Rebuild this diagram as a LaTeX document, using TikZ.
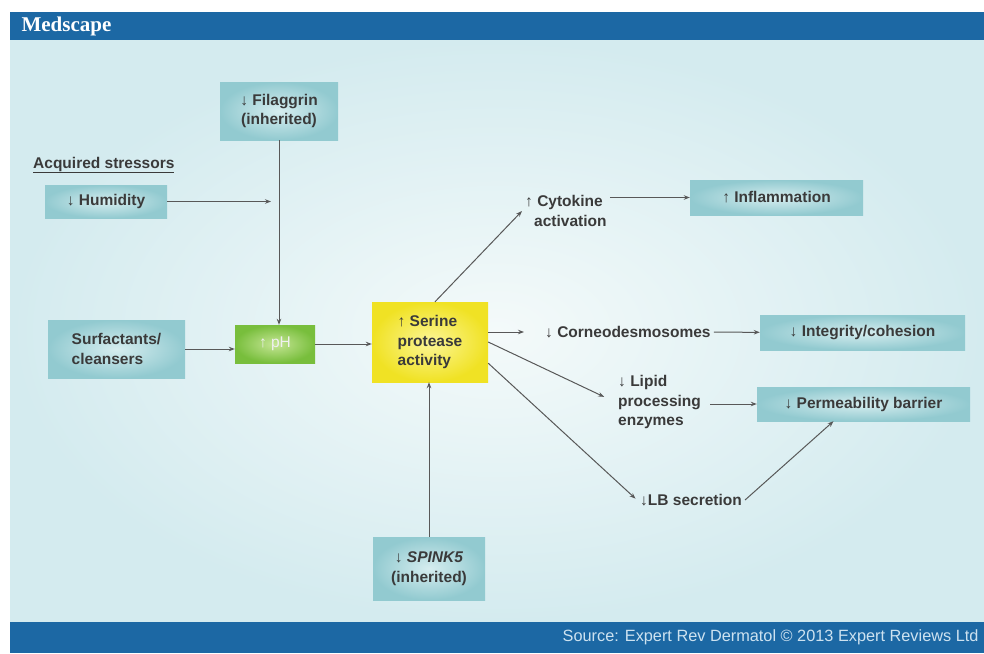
\documentclass[tikz,border=0pt]{standalone}
\usepackage{fontspec}
\setmainfont{Liberation Sans}
\newfontfamily\logofont{Liberation Serif}
\usetikzlibrary{positioning,arrows.meta}
\definecolor{BarBlue}{RGB}{28,104,164}
\definecolor{PaleCyan}{RGB}{212,235,239}
\definecolor{PaleCyanIn}{RGB}{244,250,250}
\definecolor{BoxTeal}{RGB}{146,202,208}
\definecolor{BoxTealIn}{RGB}{214,237,239}
\definecolor{PhGreen}{RGB}{120,190,60}
\definecolor{PhGreenIn}{RGB}{198,230,150}
\definecolor{SerYellow}{RGB}{240,226,36}
\definecolor{SerYellowIn}{RGB}{252,246,150}
\definecolor{InkGray}{RGB}{58,58,58}
\definecolor{LineGray}{RGB}{88,88,88}
\definecolor{SourceText}{RGB}{205,226,240}
\newcommand\lblfont{\bfseries\fontsize{15.5}{19.5}\selectfont}
\tikzset{
  tealbox/.style={rectangle,inner sep=0pt,shading=radial,inner color=BoxTealIn,
    outer color=BoxTeal,text=InkGray,font=\lblfont,align=center},
  phbox/.style={rectangle,inner sep=0pt,shading=radial,inner color=PhGreenIn,
    outer color=PhGreen,text=white!88!gray,font=\fontsize{15.5}{19.5}\selectfont},
  serbox/.style={rectangle,inner sep=0pt,shading=radial,inner color=SerYellowIn,
    outer color=SerYellow,text=InkGray,font=\lblfont,align=left},
  lbl/.style={inner sep=3pt,text=InkGray,font=\lblfont,align=left},
  flow/.style={draw=LineGray,line width=1pt,-{Stealth[length=6pt,width=4.5pt]}},
}

\begin{document}
\begin{tikzpicture}[x=1pt,y=-1pt]
\useasboundingbox (0,0) rectangle (984,653);
% frame
\fill[white] (0,0) rectangle (984,653);
\shade[inner color=PaleCyanIn,outer color=PaleCyan] (10,40) rectangle (984,622);
\fill[BarBlue] (10,12) rectangle (984,40);
\fill[BarBlue] (10,622) rectangle (984,653);
\node[anchor=west,text=white,font=\logofont\bfseries\fontsize{21}{21}\selectfont] (logo) at (18,26) {Medscape};
\node[anchor=east,text=SourceText,font=\fontsize{16.3}{17}\selectfont] (src) at (982,637)
  {Source: Expert Rev Dermatol © 2013 Expert Reviews Ltd};
% inputs
\node[tealbox,minimum width=118pt,minimum height=58pt] (filag) at (279,111) {↓ Filaggrin\\(inherited)};
\node[lbl,anchor=west] (acq) at (30,165) {\underline{Acquired stressors}};
\node[tealbox,minimum width=122pt,minimum height=33pt] (humid) at (106,201.5) {↓ Humidity};
\node[tealbox,align=left,minimum width=137pt,minimum height=58pt] (surf) at (116.5,349) {Surfactants/\\cleansers};
\node[phbox,minimum width=80pt,minimum height=38pt] (ph) at (275,344) {↑ pH};
\node[serbox,minimum width=116pt,minimum height=80pt] (serine) at (430,342) {↑ Serine\\protease\\activity};
\node[tealbox,minimum width=112pt,minimum height=63pt] (spink) at (429,568.5) {↓ \textit{SPINK5}\\(inherited)};
% effects
\node[lbl,anchor=west] (cyto) at (522,211) {↑ Cytokine\\\hspace{9pt}activation};
\node[tealbox,minimum width=173pt,minimum height=35pt] (infl) at (776.5,197.5) {↑ Inflammation};
\node[lbl,anchor=west] (corneo) at (542,332) {↓ Corneodesmosomes};
\node[tealbox,minimum width=205pt,minimum height=35pt] (integ) at (862.5,332.5) {↓ Integrity/cohesion};
\node[lbl,anchor=west] (lipid) at (615,402) {↓ Lipid\\processing\\enzymes};
\node[tealbox,minimum width=213pt,minimum height=34pt] (perm) at (863.5,404) {↓ Permeability barrier};
\node[lbl,anchor=west] (lb) at (637,500) {↓LB secretion};
\coordinate (humend) at (271,201.5);
% connectors
\draw[flow] (humid) -- (humend);
\draw[flow] (filag.south) -- (filag.south |- ph.north);
\draw[flow] (surf.east) -- (surf.east -| ph.west);
\draw[flow] (ph.east) -- (ph.east -| serine.west);
\draw[flow] ([xshift=5pt]serine.north) -- (cyto.west);
\draw[flow] (cyto.east |- infl.west) -- (infl.west);
\draw[flow,shorten >=18pt] (serine.east |- corneo.west) -- (corneo.west);
\draw[flow] (corneo) -- (integ);
\draw[flow,shorten >=12pt] (serine.east) -- (lipid.west);
\draw[flow,shorten <=6pt] (lipid.east |- perm.west) -- (perm.west);
\draw[flow,shorten >=2pt] (serine.-20) -- (lb.west);
\draw[flow] (lb.east) -- ([xshift=-30pt]perm.south);
\draw[flow] (spink.north) -- (spink.north |- serine.south);
\end{tikzpicture}
\end{document}
